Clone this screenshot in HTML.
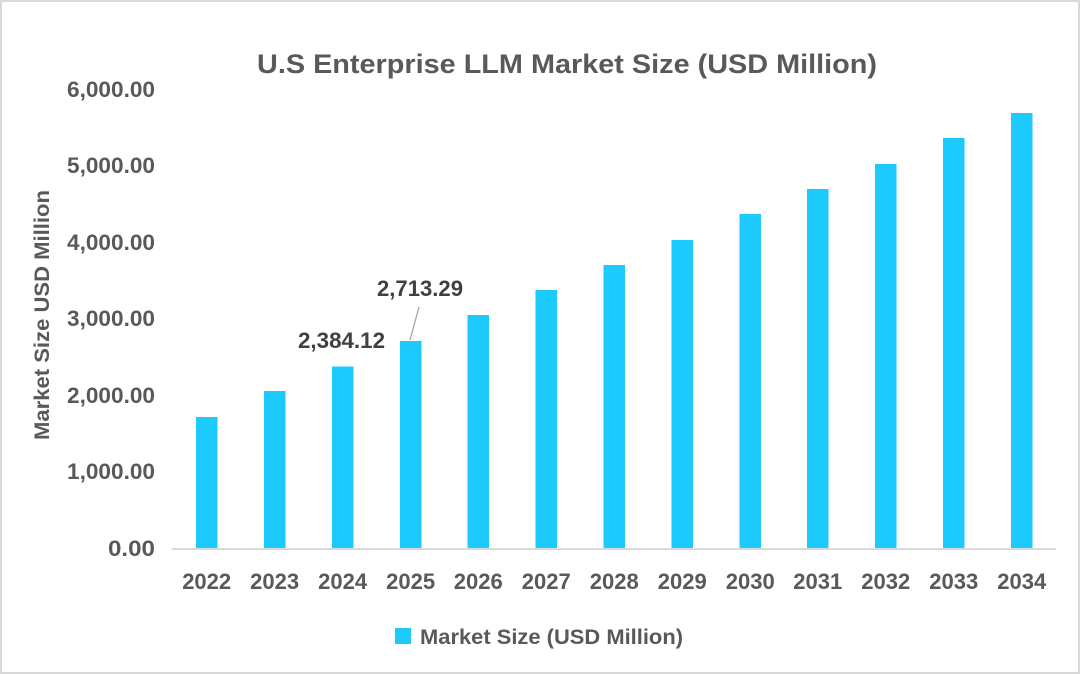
<!DOCTYPE html>
<html>
<head>
<meta charset="utf-8">
<style>
  html,body{margin:0;padding:0;background:#fff;}
  svg{display:block;}
  text{font-family:"Liberation Sans",Arial,sans-serif;font-weight:bold;}
</style>
</head>
<body>
<svg width="1080" height="674" viewBox="0 0 1080 674" xmlns="http://www.w3.org/2000/svg">
  <rect x="1" y="1" width="1078" height="672" fill="#fff" stroke="#d9d9d9" stroke-width="2"/>
  <!-- Title -->
  <text x="257" y="73" font-size="27" fill="#595959" textLength="620" lengthAdjust="spacingAndGlyphs">U.S Enterprise LLM Market Size (USD Million)</text>

  <!-- Y axis title -->
  <text transform="translate(49,315) rotate(-90)" text-anchor="middle" font-size="21" fill="#595959" textLength="250" lengthAdjust="spacingAndGlyphs">Market Size USD Million</text>

  <!-- Y tick labels -->
  <g font-size="22" fill="#595959" text-anchor="end">
    <text x="155" y="97" textLength="88" lengthAdjust="spacingAndGlyphs">6,000.00</text>
    <text x="155" y="173" textLength="88" lengthAdjust="spacingAndGlyphs">5,000.00</text>
    <text x="155" y="250" textLength="88" lengthAdjust="spacingAndGlyphs">4,000.00</text>
    <text x="155" y="326" textLength="88" lengthAdjust="spacingAndGlyphs">3,000.00</text>
    <text x="155" y="403" textLength="88" lengthAdjust="spacingAndGlyphs">2,000.00</text>
    <text x="155" y="479" textLength="88" lengthAdjust="spacingAndGlyphs">1,000.00</text>
    <text x="155" y="556" textLength="47" lengthAdjust="spacingAndGlyphs">0.00</text>
  </g>

  <!-- Bars -->
  <g fill="#1dcafe">
    <rect x="196" y="417" width="21.5" height="131"/>
    <rect x="264" y="391" width="21.5" height="157"/>
    <rect x="332" y="366.5" width="21.5" height="181.5"/>
    <rect x="400" y="341" width="21.5" height="207"/>
    <rect x="467.5" y="315" width="21.5" height="233"/>
    <rect x="535.5" y="290" width="21.5" height="258"/>
    <rect x="603.5" y="265" width="21.5" height="283"/>
    <rect x="671.5" y="240" width="21.5" height="308"/>
    <rect x="739.5" y="214" width="21.5" height="334"/>
    <rect x="807" y="189" width="21.5" height="359"/>
    <rect x="875" y="164" width="21.5" height="384"/>
    <rect x="943" y="138" width="21.5" height="410"/>
    <rect x="1011" y="113" width="21.5" height="435"/>
  </g>

  <!-- X axis line -->
  <line x1="172" y1="549" x2="1056" y2="549" stroke="#d9d9d9" stroke-width="2"/>

  <!-- X labels -->
  <g font-size="22" fill="#595959" text-anchor="middle">
    <text x="206.7" y="589" textLength="49" lengthAdjust="spacingAndGlyphs">2022</text>
    <text x="274.7" y="589" textLength="49" lengthAdjust="spacingAndGlyphs">2023</text>
    <text x="342.7" y="589" textLength="49" lengthAdjust="spacingAndGlyphs">2024</text>
    <text x="410.7" y="589" textLength="49" lengthAdjust="spacingAndGlyphs">2025</text>
    <text x="478.3" y="589" textLength="49" lengthAdjust="spacingAndGlyphs">2026</text>
    <text x="546.3" y="589" textLength="49" lengthAdjust="spacingAndGlyphs">2027</text>
    <text x="614.3" y="589" textLength="49" lengthAdjust="spacingAndGlyphs">2028</text>
    <text x="682.3" y="589" textLength="49" lengthAdjust="spacingAndGlyphs">2029</text>
    <text x="750.3" y="589" textLength="49" lengthAdjust="spacingAndGlyphs">2030</text>
    <text x="817.8" y="589" textLength="49" lengthAdjust="spacingAndGlyphs">2031</text>
    <text x="885.8" y="589" textLength="49" lengthAdjust="spacingAndGlyphs">2032</text>
    <text x="953.8" y="589" textLength="49" lengthAdjust="spacingAndGlyphs">2033</text>
    <text x="1021.8" y="589" textLength="49" lengthAdjust="spacingAndGlyphs">2034</text>
  </g>

  <!-- Data labels -->
  <text x="298" y="348" font-size="22" fill="#404040" textLength="87" lengthAdjust="spacingAndGlyphs">2,384.12</text>
  <text x="377" y="296" font-size="22" fill="#404040" textLength="86" lengthAdjust="spacingAndGlyphs">2,713.29</text>
  <line x1="419" y1="307" x2="410" y2="340" stroke="#a6a6a6" stroke-width="1.3"/>

  <!-- Legend -->
  <rect x="395" y="628" width="16" height="16" fill="#1dcafe"/>
  <text x="420" y="644" font-size="21" fill="#595959" textLength="263" lengthAdjust="spacingAndGlyphs">Market Size (USD Million)</text>
</svg>
</body>
</html>
